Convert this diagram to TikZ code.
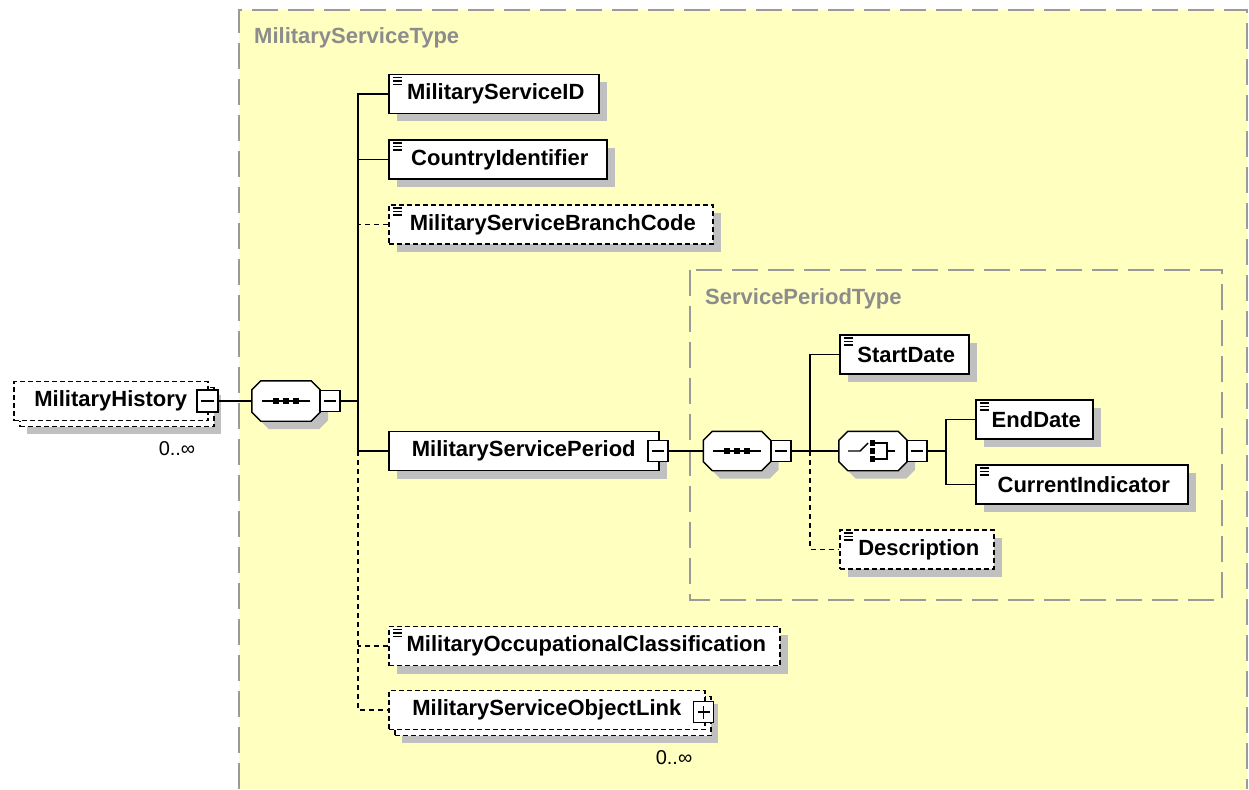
\documentclass[tikz,border=0pt]{standalone}
\usepackage{fontspec}
\setmainfont{Liberation Sans}
\usetikzlibrary{shadows,calc}
\definecolor{bgyellow}{HTML}{FFFFC0}
\definecolor{boxgrey}{HTML}{9A9A9A}
\definecolor{labelgrey}{HTML}{8C8C8C}
\definecolor{shadowgrey}{HTML}{C0C0C0}
\newcommand\octagonpath[3]{([shift={({#2+9pt},{#3})}]#1.north west) -- ([shift={({#2-9pt},{#3})}]#1.north east) -- ([shift={(#2,{#3-9pt})}]#1.north east) -- ([shift={(#2,{#3+9pt})}]#1.south east) -- ([shift={({#2-9pt},{#3})}]#1.south east) -- ([shift={({#2+9pt},{#3})}]#1.south west) -- ([shift={(#2,{#3+9pt})}]#1.south west) -- ([shift={(#2,{#3-9pt})}]#1.north west) -- cycle}
\tikzset{
  lbl/.style={font=\fontsize{22}{26}\selectfont\bfseries, text=black},
  boxcore/.style={lbl, draw=black, line width=1.6pt, fill=white, minimum height=39pt, inner sep=0pt, anchor=west},
  shad/.style={general shadow={fill=shadowgrey, shadow xshift=8pt, shadow yshift=-8pt}},
  elembox/.style={boxcore, shad},
  multi/.style={general shadow={fill=shadowgrey, shadow xshift=13pt, shadow yshift=-13pt},
                general shadow={draw=black, fill=white, line width=1.6pt, dash pattern=on 5pt off 3pt, shadow xshift=6pt, shadow yshift=-6pt}},
  optional/.style={dash pattern=on 5pt off 3pt},
  iconed/.style={execute at begin node={\hspace*{4pt}}, path picture={
     \foreach \k in {3,6.5,10}{\draw[line width=1.3pt, solid] ([xshift=4pt,yshift=-\k pt]path picture bounding box.north west) -- ++(9pt,0pt);}}},
  btnbox/.style={draw=black, line width=1.4pt, fill=white, minimum width=20pt, minimum height=21pt, inner sep=0pt, solid},
  btnminus/.style={btnbox, path picture={\draw[line width=1.4pt] ([xshift=4pt]path picture bounding box.west) -- ([xshift=-4pt]path picture bounding box.east);}},
  btnplus/.style={btnbox, path picture={\draw[line width=1.4pt] ([xshift=4pt]path picture bounding box.west) -- ([xshift=-4pt]path picture bounding box.east);
       \draw[line width=1.4pt] ([yshift=4pt]path picture bounding box.south) -- ([yshift=-4pt]path picture bounding box.north);}},
  compo/.style={draw=none, fill=none, minimum width=68pt, minimum height=40pt, inner sep=0pt},
  conn/.style={line width=1.6pt, black},
  optconn/.style={conn, dash pattern=on 5pt off 4pt},
  groupbox/.style={draw=boxgrey, line width=2pt, dash pattern=on 26pt off 10pt},
  grouplabel/.style={font=\fontsize{22}{26}\selectfont\bfseries, text=labelgrey, inner sep=0pt, anchor=base west},
  card/.style={font=\fontsize{20}{24}\selectfont, text=black, inner sep=0pt},
  sym/.style={line width=1.4pt, black}
}
\begin{document}
\begin{tikzpicture}[x=1pt,y=-1pt]
\useasboundingbox (0,0) rectangle (1249,789);
% outer group
\fill[bgyellow] (239,10) rectangle (1247,789);
\draw[groupbox] (239,789) -- (239,10) -- (1247,10) -- (1247,789);
\node[grouplabel] (mstlbl) at (254,44) {MilitaryServiceType};
% inner group
\draw[groupbox] (690,270) rectangle (1222,600);
\node[grouplabel] (sptlbl) at (705,304) {ServicePeriodType};

% compositor placeholders
\node[compo] (seq1) at (286,401) {};
\node[compo, minimum width=67pt, minimum height=39pt] (seq2) at (737,451) {};
\node[compo, minimum height=39pt] (choice) at (873,451) {};
\foreach \s in {seq1,seq2,choice}{
  \fill[shadowgrey] \octagonpath{\s}{8pt}{-8pt};
  \draw[sym, fill=white] \octagonpath{\s}{0pt}{0pt};
}

% root element
\node[boxcore, optional, multi, minimum width=194pt] (hist) at (13,401) {MilitaryHistory};
\node[btnminus, minimum height=22pt, minimum width=21pt] (hbtn) at (207.5,401) {};
\node[card] (hcard) at (177,449) {0..∞};

% sequence 1 button
\node[btnminus] (b1) at (330,401) {};
\coordinate (sp1) at (358,401);

% children
\node[elembox, iconed, minimum width=210pt] (msid) at (388,94) {MilitaryServiceID};
\node[elembox, iconed, minimum width=218pt] (cid) at (388,159.5) {CountryIdentifier};
\node[elembox, iconed, optional, minimum width=324pt] (mbc) at (388,224.5) {MilitaryServiceBranchCode};
\node[elembox, minimum width=270pt] (msp) at (388,451) {MilitaryServicePeriod};
\node[btnminus] (mspbtn) at (658,451) {};
\node[elembox, iconed, optional, minimum width=391pt] (occ) at (388,646) {MilitaryOccupationalClassification};
\node[boxcore, optional, multi, minimum width=316pt] (link) at (388,710) {MilitaryServiceObjectLink};
\node[btnplus] (linkbtn) at (703.5,712) {};
\node[card] (lcard) at (674,758) {0..∞};

% sequence 2 / choice buttons
\node[btnminus] (b2) at (781,451) {};
\coordinate (sp2) at (810,451);
\node[btnminus] (b3) at (917,451) {};
\coordinate (sp3) at (946,451);

\node[elembox, iconed, minimum width=129pt] (start) at (839,354.5) {StartDate};
\node[elembox, iconed, minimum width=117pt] (end) at (975,419.5) {EndDate};
\node[elembox, iconed, minimum width=212pt] (cur) at (975,484.5) {CurrentIndicator};
\node[elembox, iconed, optional, minimum width=154pt] (desc) at (839,549.5) {Description};

% compositor symbols
\foreach \s in {seq1,seq2}{
  \draw[sym] ($(\s.center)+(-24,0)$) -- ($(\s.center)+(24,0)$);
  \foreach \dx in {-10,0,10}{\fill ($(\s.center)+(\dx,0)$) +(-2.7,-2.7) rectangle +(2.7,2.7);}
}
\draw[sym] ($(choice.center)+(-25,0)$) -- ($(choice.center)+(-13,0)$) -- ($(choice.center)+(-5,-8)$);
\foreach \dy in {-8,0,8}{\fill ($(choice.center)+(-0.5,\dy)$) +(-2.7,-2.7) rectangle +(2.7,2.7);}
\draw[sym] ($(choice.center)+(2,-8)$) -- ($(choice.center)+(14,-8)$) -- ($(choice.center)+(14,8)$) -- ($(choice.center)+(2,8)$);
\draw[sym] ($(choice.center)+(14,0)$) -- ($(choice.center)+(22,0)$);

% connectors
\draw[conn] (hbtn.east) -- (seq1.west);
\draw[conn] (b1.east) -- (sp1);
\draw[conn] (msid.west) -- (msid.west -| sp1) -- (msp.west -| sp1) -- (msp.west);
\draw[conn] (cid.west) -- (cid.west -| sp1);
\draw[optconn] (mbc.west) -- (mbc.west -| sp1);
\draw[optconn] (msp.west -| sp1) -- (link.west -| sp1) -- (link.west);
\draw[optconn] (occ.west) -- (occ.west -| sp1);

\draw[conn] (mspbtn.east) -- (seq2.west);
\draw[conn] (b2.east) -- (choice.west);
\draw[conn] (start.west) -- (start.west -| sp2) -- (sp2);
\draw[optconn] (sp2) -- (desc.west -| sp2) -- (desc.west);
\draw[conn] (b3.east) -- (sp3);
\draw[conn] (end.west) -- (end.west -| sp3) -- (cur.west -| sp3) -- (cur.west);
\end{tikzpicture}
\end{document}
